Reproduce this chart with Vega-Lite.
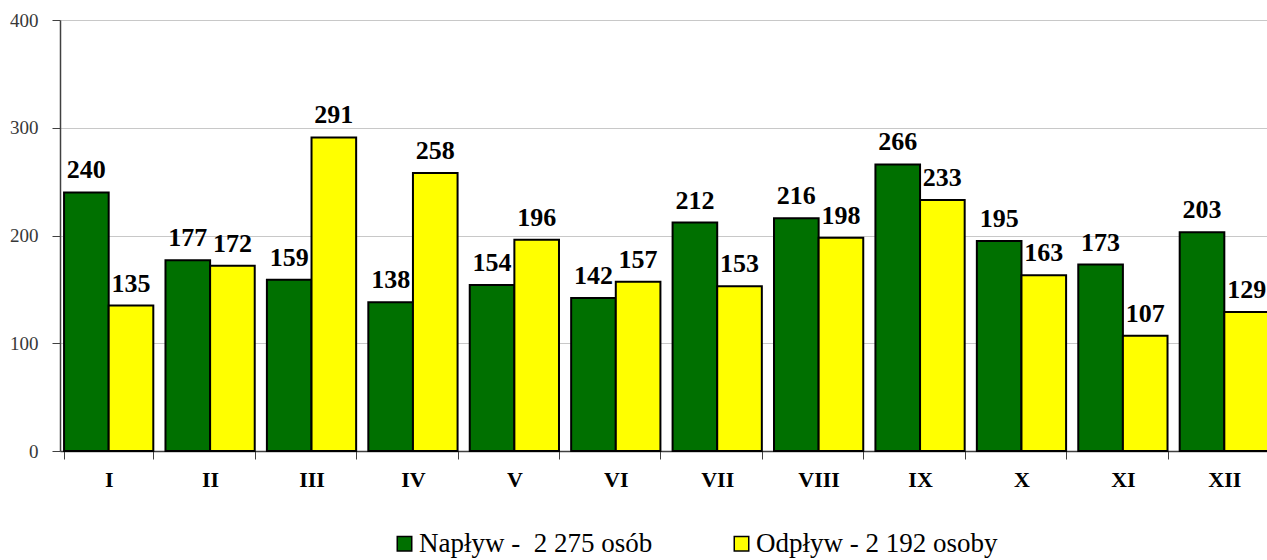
{
  "$schema": "https://vega.github.io/schema/vega-lite/v6.json",
  "autosize": {"type": "none"},
  "padding": {"left": 60, "top": 20, "right": 5, "bottom": 109},
  "width": 1213,
  "height": 431,
  "background": "white",
  "config": {
    "view": {"stroke": null},
    "font": "Liberation Serif",
    "axisX": {
      "labelAngle": 0, "labelFont": "Liberation Serif",
      "labelFontSize": 22, "labelFontWeight": "bold", "labelColor": "black",
      "labelPadding": 10, "tickBand": "extent", "tickSize": 8,
      "tickColor": "#404040", "domainColor": "#404040", "domainWidth": 1.5
    },
    "axisY": {
      "tickSize": 8, "labelFont": "Liberation Serif", "labelFontSize": 19,
      "labelColor": "#383838", "labelPadding": 14, "gridColor": "#c8c8c8",
      "domainColor": "#404040", "domainWidth": 1.5, "tickColor": "#404040"
    }
  },
  "data": {
    "values": [
      {"m": "I", "s": "Napływ - \u00a02 275 osób", "v": 240},
      {"m": "I", "s": "Odpływ - 2 192 osoby", "v": 135},
      {"m": "II", "s": "Napływ - \u00a02 275 osób", "v": 177},
      {"m": "II", "s": "Odpływ - 2 192 osoby", "v": 172},
      {"m": "III", "s": "Napływ - \u00a02 275 osób", "v": 159},
      {"m": "III", "s": "Odpływ - 2 192 osoby", "v": 291},
      {"m": "IV", "s": "Napływ - \u00a02 275 osób", "v": 138},
      {"m": "IV", "s": "Odpływ - 2 192 osoby", "v": 258},
      {"m": "V", "s": "Napływ - \u00a02 275 osób", "v": 154},
      {"m": "V", "s": "Odpływ - 2 192 osoby", "v": 196},
      {"m": "VI", "s": "Napływ - \u00a02 275 osób", "v": 142},
      {"m": "VI", "s": "Odpływ - 2 192 osoby", "v": 157},
      {"m": "VII", "s": "Napływ - \u00a02 275 osób", "v": 212},
      {"m": "VII", "s": "Odpływ - 2 192 osoby", "v": 153},
      {"m": "VIII", "s": "Napływ - \u00a02 275 osób", "v": 216},
      {"m": "VIII", "s": "Odpływ - 2 192 osoby", "v": 198},
      {"m": "IX", "s": "Napływ - \u00a02 275 osób", "v": 266},
      {"m": "IX", "s": "Odpływ - 2 192 osoby", "v": 233},
      {"m": "X", "s": "Napływ - \u00a02 275 osób", "v": 195},
      {"m": "X", "s": "Odpływ - 2 192 osoby", "v": 163},
      {"m": "XI", "s": "Napływ - \u00a02 275 osób", "v": 173},
      {"m": "XI", "s": "Odpływ - 2 192 osoby", "v": 107},
      {"m": "XII", "s": "Napływ - \u00a02 275 osób", "v": 203},
      {"m": "XII", "s": "Odpływ - 2 192 osoby", "v": 129}
    ]
  },
  "encoding": {
    "x": {
      "field": "m", "type": "nominal",
      "sort": ["I","II","III","IV","V","VI","VII","VIII","IX","X","XI","XII"],
      "scale": {"paddingInner": 0.12, "paddingOuter": 0.04},
      "axis": {"title": null}
    },
    "xOffset": {"field": "s", "type": "nominal"},
    "y": {
      "field": "v", "type": "quantitative",
      "scale": {"domain": [0, 400]},
      "axis": {"title": null, "values": [0, 100, 200, 300, 400]}
    }
  },
  "layer": [
    {
      "mark": {"type": "bar", "stroke": "black", "strokeWidth": 2},
      "encoding": {
        "color": {
          "field": "s", "type": "nominal",
          "scale": {"range": ["#007000", "#ffff00"]},
          "legend": {
            "title": null, "orient": "none", "direction": "horizontal",
            "legendX": 331, "legendY": 510,
            "symbolType": "square", "symbolSize": 210, "symbolStrokeColor": "black",
            "symbolStrokeWidth": 1.5, "labelFont": "Liberation Serif",
            "labelFontSize": 27, "labelColor": "black", "labelLimit": 500,
            "columnPadding": 75, "labelOffset": 1
          }
        }
      }
    },
    {
      "mark": {"type": "text", "baseline": "alphabetic", "dy": -14, "font": "Liberation Serif", "fontSize": 26, "fontWeight": "bold", "color": "black"},
      "encoding": {"text": {"field": "v", "type": "quantitative"}}
    }
  ]
}
